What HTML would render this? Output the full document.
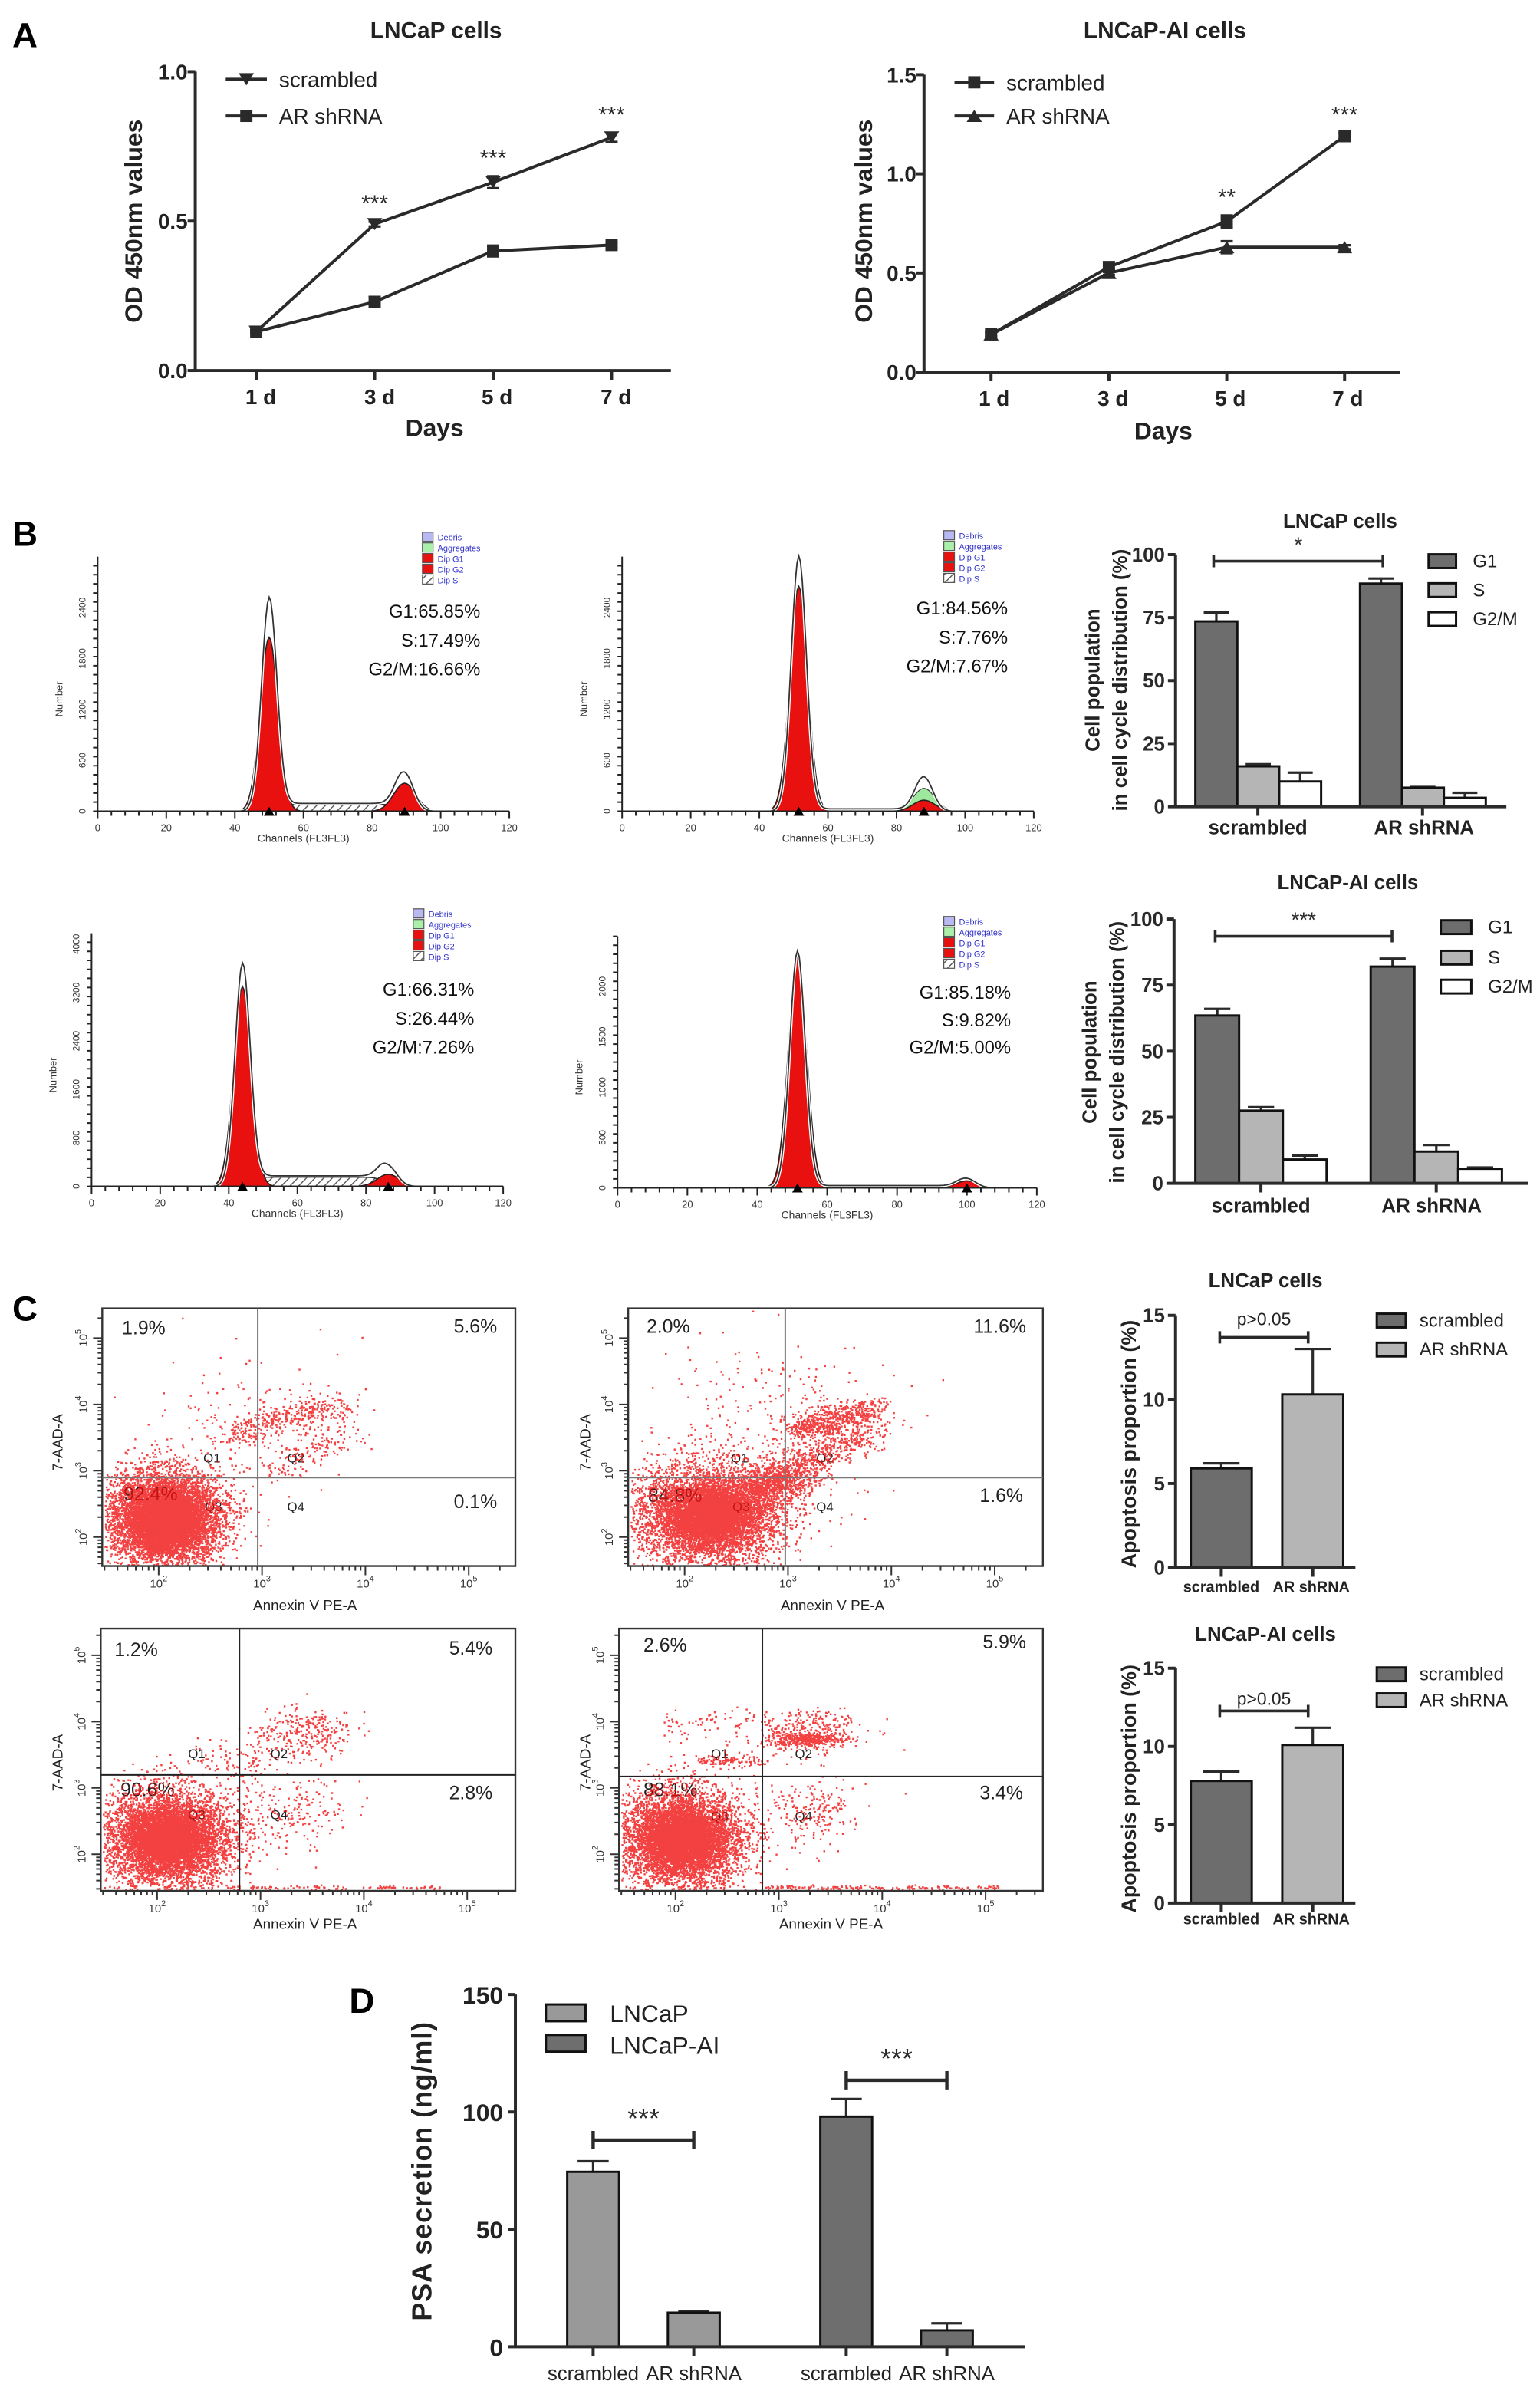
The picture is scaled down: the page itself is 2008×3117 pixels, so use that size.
<!DOCTYPE html>
<html><head><meta charset="utf-8"><style>
html,body{margin:0;padding:0;background:#fff;}
svg{display:block;font-family:"Liberation Sans",Arial,sans-serif;}
.b{font-weight:bold;}
</style></head><body>
<svg id="fig" width="2008" height="3117" viewBox="0 0 1010 1568" xmlns="http://www.w3.org/2000/svg">
<defs>
<pattern id="hatch" patternUnits="userSpaceOnUse" width="4" height="4" patternTransform="rotate(45)"><rect width="4" height="4" fill="#fff"/><line x1="0" y1="0" x2="0" y2="4" stroke="#555" stroke-width="1.4"/></pattern>
</defs>
<rect width="1010" height="1568" fill="#fff"/>

<text x="8" y="31" font-size="23" class="b">A</text>
<text x="8" y="358" font-size="23" class="b">B</text>
<text x="8" y="866" font-size="23" class="b">C</text>
<text x="229" y="1320" font-size="23" class="b">D</text>

<g fill="#222">
<text x="286" y="25" font-size="15" class="b" text-anchor="middle">LNCaP cells</text>
<text x="123" y="52" font-size="14" class="b" text-anchor="end">1.0</text>
<text x="123" y="150" font-size="14" class="b" text-anchor="end">0.5</text>
<text x="123" y="248" font-size="14" class="b" text-anchor="end">0.0</text>
<text x="171" y="265" font-size="14" class="b" text-anchor="middle">1 d</text>
<text x="249" y="265" font-size="14" class="b" text-anchor="middle">3 d</text>
<text x="326" y="265" font-size="14" class="b" text-anchor="middle">5 d</text>
<text x="404" y="265" font-size="14" class="b" text-anchor="middle">7 d</text>
<text x="285" y="286" font-size="16" class="b" text-anchor="middle">Days</text>
<text x="93" y="145" font-size="16" class="b" text-anchor="middle" transform="rotate(-90 93 145)">OD 450nm values</text>
<text x="183" y="57" font-size="14">scrambled</text>
<text x="183" y="81" font-size="14">AR shRNA</text>
</g>

<g fill="#222">
<text x="764" y="25" font-size="15" class="b" text-anchor="middle">LNCaP-AI cells</text>
<text x="601" y="54" font-size="14" class="b" text-anchor="end">1.5</text>
<text x="601" y="119" font-size="14" class="b" text-anchor="end">1.0</text>
<text x="601" y="184" font-size="14" class="b" text-anchor="end">0.5</text>
<text x="601" y="249" font-size="14" class="b" text-anchor="end">0.0</text>
<text x="652" y="266" font-size="14" class="b" text-anchor="middle">1 d</text>
<text x="730" y="266" font-size="14" class="b" text-anchor="middle">3 d</text>
<text x="807" y="266" font-size="14" class="b" text-anchor="middle">5 d</text>
<text x="884" y="266" font-size="14" class="b" text-anchor="middle">7 d</text>
<text x="763" y="288" font-size="16" class="b" text-anchor="middle">Days</text>
<text x="572" y="145" font-size="16" class="b" text-anchor="middle" transform="rotate(-90 572 145)">OD 450nm values</text>
<text x="660" y="59" font-size="14">scrambled</text>
<text x="660" y="81" font-size="14">AR shRNA</text>
</g>

<g fill="#111" font-size="12">
<text x="315" y="405" text-anchor="end">G1:65.85%</text>
<text x="315" y="424" text-anchor="end">S:17.49%</text>
<text x="315" y="443" text-anchor="end">G2/M:16.66%</text>
<text x="661" y="403" text-anchor="end">G1:84.56%</text>
<text x="661" y="422" text-anchor="end">S:7.76%</text>
<text x="661" y="441" text-anchor="end">G2/M:7.67%</text>
<text x="311" y="653" text-anchor="end">G1:66.31%</text>
<text x="311" y="672" text-anchor="end">S:26.44%</text>
<text x="311" y="691" text-anchor="end">G2/M:7.26%</text>
<text x="663" y="655" text-anchor="end">G1:85.18%</text>
<text x="663" y="673" text-anchor="end">S:9.82%</text>
<text x="663" y="691" text-anchor="end">G2/M:5.00%</text>
</g>

<g fill="#222">
<text x="879" y="346" font-size="13" class="b" text-anchor="middle">LNCaP cells</text>
<text x="884" y="583" font-size="13" class="b" text-anchor="middle">LNCaP-AI cells</text>
<text x="825" y="547" font-size="13" class="b" text-anchor="middle">scrambled</text>
<text x="934" y="547" font-size="13" class="b" text-anchor="middle">AR shRNA</text>
<text x="827" y="795" font-size="13" class="b" text-anchor="middle">scrambled</text>
<text x="939" y="795" font-size="13" class="b" text-anchor="middle">AR shRNA</text>
<text x="721" y="446" font-size="13" class="b" text-anchor="middle" transform="rotate(-90 721 446)">Cell population</text>
<text x="739" y="446" font-size="13" class="b" text-anchor="middle" transform="rotate(-90 739 446)">in cell cycle distribution (%)</text>
<text x="719" y="690" font-size="13" class="b" text-anchor="middle" transform="rotate(-90 719 690)">Cell population</text>
<text x="737" y="690" font-size="13" class="b" text-anchor="middle" transform="rotate(-90 737 690)">in cell cycle distribution (%)</text>
<text x="966" y="372" font-size="12">G1</text>
<text x="966" y="391" font-size="12">S</text>
<text x="966" y="410" font-size="12">G2/M</text>
<text x="976" y="612" font-size="12">G1</text>
<text x="976" y="632" font-size="12">S</text>
<text x="976" y="651" font-size="12">G2/M</text>
</g>

<g fill="#222" font-size="12.5">
<text x="80" y="875">1.9%</text>
<text x="326" y="874" text-anchor="end">5.6%</text>
<text x="81" y="984">92.4%</text>
<text x="326" y="989" text-anchor="end">0.1%</text>
<text x="424" y="874">2.0%</text>
<text x="673" y="874" text-anchor="end">11.6%</text>
<text x="425" y="985">84.8%</text>
<text x="671" y="985" text-anchor="end">1.6%</text>
<text x="75" y="1086">1.2%</text>
<text x="323" y="1085" text-anchor="end">5.4%</text>
<text x="79" y="1178">90.6%</text>
<text x="323" y="1180" text-anchor="end">2.8%</text>
<text x="422" y="1083">2.6%</text>
<text x="673" y="1081" text-anchor="end">5.9%</text>
<text x="422" y="1178">88.1%</text>
<text x="671" y="1180" text-anchor="end">3.4%</text>
<g font-size="8.5">
<text x="139" y="959" text-anchor="middle">Q1</text>
<text x="194" y="959" text-anchor="middle">Q2</text>
<text x="140" y="991" text-anchor="middle">Q3</text>
<text x="194" y="991" text-anchor="middle">Q4</text>
<text x="485" y="959" text-anchor="middle">Q1</text>
<text x="541" y="959" text-anchor="middle">Q2</text>
<text x="486" y="991" text-anchor="middle">Q3</text>
<text x="541" y="991" text-anchor="middle">Q4</text>
<text x="129" y="1153" text-anchor="middle">Q1</text>
<text x="183" y="1153" text-anchor="middle">Q2</text>
<text x="129" y="1193" text-anchor="middle">Q3</text>
<text x="183" y="1193" text-anchor="middle">Q4</text>
<text x="472" y="1153" text-anchor="middle">Q1</text>
<text x="527" y="1153" text-anchor="middle">Q2</text>
<text x="472" y="1194" text-anchor="middle">Q3</text>
<text x="527" y="1194" text-anchor="middle">Q4</text>
</g>
<g font-size="9.5">
<text x="200" y="1056" text-anchor="middle">Annexin V PE-A</text>
<text x="546" y="1056" text-anchor="middle">Annexin V PE-A</text>
<text x="200" y="1265" text-anchor="middle">Annexin V PE-A</text>
<text x="545" y="1265" text-anchor="middle">Annexin V PE-A</text>
<text x="41" y="946" text-anchor="middle" transform="rotate(-90 41 946)">7-AAD-A</text>
<text x="387" y="946" text-anchor="middle" transform="rotate(-90 387 946)">7-AAD-A</text>
<text x="41" y="1156" text-anchor="middle" transform="rotate(-90 41 1156)">7-AAD-A</text>
<text x="387" y="1156" text-anchor="middle" transform="rotate(-90 387 1156)">7-AAD-A</text>
</g>
</g>

<g fill="#222">
<text x="830" y="844" font-size="13" class="b" text-anchor="middle">LNCaP cells</text>
<text x="830" y="1076" font-size="13" class="b" text-anchor="middle">LNCaP-AI cells</text>
<text x="829" y="869" font-size="11.5" text-anchor="middle">p&gt;0.05</text>
<text x="829" y="1118" font-size="11.5" text-anchor="middle">p&gt;0.05</text>
<text x="801" y="1044" font-size="10" class="b" text-anchor="middle">scrambled</text>
<text x="860" y="1044" font-size="10" class="b" text-anchor="middle">AR shRNA</text>
<text x="801" y="1262" font-size="10" class="b" text-anchor="middle">scrambled</text>
<text x="860" y="1262" font-size="10" class="b" text-anchor="middle">AR shRNA</text>
<text x="745" y="947" font-size="13.5" class="b" text-anchor="middle" transform="rotate(-90 745 947)">Apoptosis proportion (%)</text>
<text x="745" y="1173" font-size="13.5" class="b" text-anchor="middle" transform="rotate(-90 745 1173)">Apoptosis proportion (%)</text>
<text x="931" y="870" font-size="12">scrambled</text>
<text x="931" y="889" font-size="12">AR shRNA</text>
<text x="931" y="1102" font-size="12">scrambled</text>
<text x="931" y="1119" font-size="12">AR shRNA</text>
</g>

<g fill="#222">
<text x="330" y="1314" font-size="16" class="b" text-anchor="end">150</text>
<text x="330" y="1391" font-size="16" class="b" text-anchor="end">100</text>
<text x="330" y="1468" font-size="16" class="b" text-anchor="end">50</text>
<text x="330" y="1545" font-size="16" class="b" text-anchor="end">0</text>
<text x="283" y="1424" font-size="18" class="b" text-anchor="middle" transform="rotate(-90 283 1424)" textLength="196">PSA secretion (ng/ml)</text>
<text x="389" y="1561" font-size="13" text-anchor="middle">scrambled</text>
<text x="455" y="1561" font-size="13" text-anchor="middle">AR shRNA</text>
<text x="555" y="1561" font-size="13" text-anchor="middle">scrambled</text>
<text x="621" y="1561" font-size="13" text-anchor="middle">AR shRNA</text>
<text x="400" y="1326" font-size="16">LNCaP</text>
<text x="400" y="1347" font-size="16">LNCaP-AI</text>
</g>

<g id="marks"></g>
</svg>

<script>
const NS = 'http://www.w3.org/2000/svg';
const root = document.getElementById('marks');
function mk(tag, attrs, parent) {
  const e = document.createElementNS(NS, tag);
  for (const k in attrs) e.setAttribute(k, attrs[k]);
  (parent || root).appendChild(e);
  return e;
}

// ===== Panel A data =====
const daysA = ['1 d', '3 d', '5 d', '7 d'];
const a1Scr = [0.13, 0.49, 0.63, 0.78];
const a1ScrErr = [0.005, 0.008, 0.02, 0.015];
const a1Ar = [0.13, 0.23, 0.40, 0.42];
const a1ArErr = [0.005, 0.015, 0.018, 0.008];
const a1Stars = ['', '***', '***', '***'];
const a2Scr = [0.19, 0.53, 0.76, 1.19];
const a2ScrErr = [0.01, 0.015, 0.03, 0.015];
const a2Ar = [0.19, 0.50, 0.63, 0.63];
const a2ArErr = [0.01, 0.01, 0.03, 0.01];
const a2Stars = ['', '', '**', '***'];

// ===== Panel B bar data =====
const cycleCats = ['scrambled', 'AR shRNA'];
const b1G1 = [73.5, 88.5], b1G1Err = [3.5, 2];
const b1S = [16, 7.5], b1SErr = [0.8, 0.3];
const b1G2 = [10, 3.5], b1G2Err = [3.5, 2];
const b2G1 = [63.5, 82], b2G1Err = [2.5, 3];
const b2S = [27.5, 12], b2SErr = [1.3, 2.5];
const b2G2 = [9, 5.5], b2G2Err = [1.5, 0.5];
const cycleTicks = [0, 25, 50, 75, 100];

// ===== Histogram data =====
const histG1Mu = [50, 51.5, 44, 51.5];
const histG1Amp = [2050, 2650, 3300, 2300];
const histG1Peak = [2500, 3000, 3650, 2350];
const histG2Mu = [89.5, 88, 86.5, 100];
const histG2Amp = [330, 130, 200, 70];
const histG2Peak = [440, 400, 320, 90];
const histSLevel = [80, 25, 150, 20];
const histYTicks = [[0, 600, 1200, 1800, 2400], [0, 600, 1200, 1800, 2400], [0, 800, 1600, 2400, 3200, 4000], [0, 500, 1000, 1500, 2000]];
const histXTicks = [0, 20, 40, 60, 80, 100, 120];

// ===== Apoptosis data =====
const apoCats = ['scrambled', 'AR shRNA'];
const c1Vals = [5.9, 10.3], c1Err = [0.3, 2.7];
const c2Vals = [7.8, 10.1], c2Err = [0.6, 1.1];
const apoTicks = [0, 5, 10, 15];

// ===== Panel D data =====
const dCats = ['scrambled', 'AR shRNA'];
const dLNCaP = [74.5, 14.5], dLNCaPErr = [4.5, 0.5];
const dAI = [98, 7], dAIErr = [7.5, 3];
const dTicks = [0, 50, 100, 150];

const INK = '#2a2a2a';

function marker(type, x, y, g) {
  let e;
  if (type === 'square') e = mk('rect', {x: x - 4, y: y - 4, width: 8, height: 8, fill: INK}, g);
  else if (type === 'down') e = mk('path', {d: `M${x-5},${y-4}L${x+5},${y-4}L${x},${y+4}Z`, fill: INK}, g);
  else e = mk('path', {d: `M${x-5},${y+4}L${x+5},${y+4}L${x},${y-4}Z`, fill: INK}, g);
  
  
}
function lineSeries(xf, yf, vals, errs, type, name) {
  const g = mk('g', {});
  
  
  const pts = vals.map((v, i) => `${xf(i)},${yf(v)}`).join(' ');
  const pl = mk('polyline', {points: pts, fill: 'none', stroke: INK, 'stroke-width': 2}, g);
  
  
  vals.forEach((v, i) => {
    const x = xf(i), y1 = yf(v + errs[i]), y2 = yf(v - errs[i]);
    const eb = mk('path', {d: `M${x},${y1}V${y2}M${x-4},${y1}H${x+4}M${x-4},${y2}H${x+4}`, stroke: INK, 'stroke-width': 1.6, fill: 'none'}, g);
    
    
    marker(type, x, yf(v), g);
  });
}
function lineAxes(ax, y0, yTop, xEnd, tickYs, tickXs) {
  const g = mk('g', {stroke: INK, 'stroke-width': 2, fill: 'none'});
  
  
  mk('path', {d: `M${ax},${yTop}V${y0}H${xEnd}`}, g);
  tickYs.forEach(y => mk('path', {d: `M${ax-5},${y}H${ax}`}, g));
  tickXs.forEach(x => mk('path', {d: `M${x},${y0}V${y0+6}`}, g));
}
function stars(xf, yf, vals, errs, labels, fs) {
  labels.forEach((s, i) => {
    if (!s) return;
    const t = mk('text', {x: xf(i), y: yf(vals[i] + errs[i]) - 7, 'font-size': fs, 'text-anchor': 'middle', fill: INK});
    t.textContent = s;
    
    
  });
}
const a1x = i => 168 + i * 77.7;
const a1y = v => 243 - v * 196;
lineAxes(128, 243, 47, 440, [0, 0.5, 1].map(a1y), daysA.map((d, i) => a1x(i)));
lineSeries(a1x, a1y, a1Ar, a1ArErr, 'square', 'series-ar-shrna');
lineSeries(a1x, a1y, a1Scr, a1ScrErr, 'down', 'series-scrambled');
stars(a1x, a1y, a1Scr, a1ScrErr, a1Stars, 15);
{
  const l1 = mk('path', {d: 'M148,52H175M148,76H175', stroke: INK, 'stroke-width': 2});
  
  
  marker('down', 161.5, 52, root);
  marker('square', 161.5, 76, root);
}
const a2x = i => 650 + i * 77.3;
const a2y = v => 244 - v * 130;
lineAxes(606, 244, 49, 918, [0, 0.5, 1, 1.5].map(a2y), daysA.map((d, i) => a2x(i)));
lineSeries(a2x, a2y, a2Ar, a2ArErr, 'up', 'series-ar-shrna');
lineSeries(a2x, a2y, a2Scr, a2ScrErr, 'square', 'series-scrambled');
stars(a2x, a2y, a2Scr, a2ScrErr, a2Stars, 15);
{
  const l2 = mk('path', {d: 'M626,54H652M626,76H652', stroke: INK, 'stroke-width': 2});
  
  
  marker('square', 639, 54, root);
  marker('up', 639, 76, root);
}

// ---------- Histograms ----------
const histLayout = [
  {x0: 64, w: 270, base: 532, top: 365, ymax: 3000, lx: 277, ly: 349},
  {x0: 408, w: 270, base: 532, top: 365, ymax: 3000, lx: 619, ly: 348},
  {x0: 60, w: 270, base: 778, top: 612, ymax: 4180, lx: 271, ly: 596},
  {x0: 405, w: 275, base: 779, top: 614, ymax: 2500, lx: 619, ly: 601}
];
function gauss(c, mu, s, a) { return a * Math.exp(-0.5 * ((c - mu) / s) ** 2); }
function sig(c, a, b) { return 1 / (1 + Math.exp(-(c - a) * 1.2)) * (1 / (1 + Math.exp((c - b) * 1.2))); }
histLayout.forEach((L, k) => {
  const g = mk('g', {});
  
  
  const X = c => L.x0 + c / 120 * L.w;
  const Y = n => L.base - n / L.ymax * (L.base - L.top);
  const m1 = histG1Mu[k], m2 = histG2Mu[k];
  const s1 = 2.6, s2 = 3.2;
  function areaPath(f) {
    let d = `M${X(m1 - 14)},${L.base}`;
    for (let c = 0; c <= 120; c += 0.5) d += `L${X(c).toFixed(2)},${Y(f(c)).toFixed(2)}`;
    return d + `L${X(120)},${L.base}Z`;
  }
  const sb = mk('path', {d: areaPath(c => histSLevel[k] * sig(c, m1 + 2, m2 - 2)), fill: 'url(#hatch)', stroke: '#333', 'stroke-width': 0.8}, g);
  
  
  if (k === 1) {
    const ag = mk('path', {d: areaPath(c => gauss(c, m2, s2, 270)), fill: '#9ee89e', stroke: '#333', 'stroke-width': 0.6}, g);
    
    
  }
  const g2 = mk('path', {d: areaPath(c => gauss(c, m2, s2, histG2Amp[k])), fill: '#e8110f', stroke: '#222', 'stroke-width': 0.8}, g);
  
  
  const g1 = mk('path', {d: areaPath(c => gauss(c, m1, s1, histG1Amp[k])), fill: '#e8110f', stroke: '#222', 'stroke-width': 0.8}, g);
  
  
  const tot = c => gauss(c, m1, s1 * 0.85, histG1Peak[k]) + gauss(c, m2, s2 * 0.8, histG2Peak[k]) + histSLevel[k] * 1.15 * sig(c, m1 + 1, m2 - 1);
  let d = '';
  for (let c = 30; c <= 110; c += 0.5) d += (d ? 'L' : 'M') + X(c).toFixed(2) + ',' + Y(tot(c)).toFixed(2);
  const ol = mk('path', {d: d, fill: 'none', stroke: '#fff', 'stroke-width': 2.2}, g);
  
  
  const ol2 = mk('path', {d: d, fill: 'none', stroke: '#333', 'stroke-width': 0.9}, g);
  
  
  let ad = `M${L.x0},${L.top}V${L.base}H${L.x0 + L.w}`;
  for (let c = 0; c <= 120; c += 4) ad += `M${X(c)},${L.base}v${c % 20 === 0 ? 5 : 3}`;
  for (let y = L.base; y >= L.top; y -= (L.base - L.top) / 28) ad += `M${L.x0},${y.toFixed(1)}h-3`;
  const ax = mk('path', {d: ad, stroke: '#222', 'stroke-width': 1, fill: 'none'}, g);
  
  
  histXTicks.forEach(c => {
    const t = mk('text', {x: X(c), y: L.base + 13, 'font-size': 6.5, 'text-anchor': 'middle', fill: '#333'}, g);
    t.textContent = String(c);
    
    
  });
  histYTicks[k].forEach(n => {
    const y = Y(n);
    const t = mk('text', {x: L.x0 - 8, y: y, 'font-size': 6, 'text-anchor': 'middle', fill: '#333', transform: `rotate(-90 ${L.x0 - 8} ${y})`}, g);
    t.textContent = String(n);
    
    
  });
  const xl = mk('text', {x: X(60), y: L.base + 20, 'font-size': 7, 'text-anchor': 'middle', fill: '#333'}, g);
  xl.textContent = 'Channels (FL3FL3)';
  
  
  const ym = (L.base + L.top) / 2 + 10;
  const yl = mk('text', {x: L.x0 - 23, y: ym, 'font-size': 6.5, 'text-anchor': 'middle', fill: '#333', transform: `rotate(-90 ${L.x0 - 23} ${ym})`}, g);
  yl.textContent = 'Number';
  
  
  [m1, m2].forEach(m => {
    const tr = mk('path', {d: `M${X(m) - 3.5},${L.base + 3}L${X(m) + 3.5},${L.base + 3}L${X(m)},${L.base - 3}Z`, fill: '#000'}, g);
    
    
  });
  const legNames = ['Debris', 'Aggregates', 'Dip G1', 'Dip G2', 'Dip S'];
  const legFill = ['#b9b9f2', '#aaf0aa', '#e8110f', '#e8110f', 'url(#hatch)'];
  legNames.forEach((nm, i) => {
    const r = mk('rect', {x: L.lx, y: L.ly + i * 7, width: 7, height: 6, fill: legFill[i], stroke: '#555', 'stroke-width': 0.6}, g);
    
    
    const t = mk('text', {x: L.lx + 10, y: L.ly + i * 7 + 5.5, 'font-size': 5.5, fill: '#3333cc'}, g);
    t.textContent = nm;
    
    
  });
});

function barChart(opts) {
  const g = mk('g', {});
  
  
  const Y = opts.y;
  opts.series.forEach((vals, s) => {
    vals.forEach((v, c) => {
      const x = opts.x(s, c);
      const w = opts.bw;
      const e = opts.errs[s][c];
      const eb = mk('path', {d: `M${x + w / 2},${Y(v)}V${Y(v + e)}M${x + w / 2 - w * 0.3},${Y(v + e)}H${x + w / 2 + w * 0.3}`, stroke: INK, 'stroke-width': 1.6, fill: 'none'}, g);
      
      
      const r = mk('rect', {x: x, y: Y(v), width: w, height: Y(0) - Y(v), fill: opts.colors[s], stroke: '#111', 'stroke-width': 1.5}, g);
      
      
    });
  });
  let ad = `M${opts.ax},${Y(opts.ticks[opts.ticks.length - 1])}V${Y(0)}H${opts.xEnd}`;
  opts.ticks.forEach(t => ad += `M${opts.ax - 5},${Y(t)}H${opts.ax}`);
  opts.catTicks.forEach(x => ad += `M${x},${Y(0)}v6`);
  const ax = mk('path', {d: ad, stroke: INK, 'stroke-width': 2, fill: 'none'}, g);
  
  
  if (opts.tickLabels) opts.ticks.forEach(t => {
    const tx = mk('text', {x: opts.ax - 7, y: Y(t) + 4.5, 'font-size': opts.tfs, 'font-weight': 'bold', 'text-anchor': 'end', fill: INK}, g);
    tx.textContent = String(t);
    
    
  });
  if (opts.bracket) {
    const b = opts.bracket;
    const bp = mk('path', {d: `M${b.x1},${b.y}H${b.x2}M${b.x1},${b.y - 4}v8M${b.x2},${b.y - 4}v8`, stroke: INK, 'stroke-width': 1.8, fill: 'none'}, g);
    
    
    if (b.label) {
      const st = mk('text', {x: (b.x1 + b.x2) / 2, y: b.y - 6, 'font-size': b.fs, 'text-anchor': 'middle', fill: INK}, g);
      st.textContent = b.label;
      
      
    }
  }
  if (opts.legend) {
    const L = opts.legend;
    opts.colors.forEach((col, s) => {
      const r = mk('rect', {x: L.x, y: L.ys[s] - L.h / 2, width: L.w, height: L.h, fill: col, stroke: '#111', 'stroke-width': 1.5}, g);
      
      
    });
  }
}

const yB1 = v => 529 - v * 1.653;
barChart({name: 'cell-cycle-chart-lncap', y: yB1, series: [b1G1, b1S, b1G2], errs: [b1G1Err, b1SErr, b1G2Err],
  seriesNames: ['g1', 's', 'g2m'], colors: ['#6d6d6d', '#b5b5b5', '#ffffff'],
  x: (s, c) => [784, 892][c] + s * 27.5, bw: 27.5, ax: 771, xEnd: 988, ticks: cycleTicks, tickLabels: true, tfs: 13,
  catTicks: [825, 933], bracket: {x1: 796, x2: 907, y: 368, label: '*', fs: 14},
  legend: {x: 937, w: 18, h: 9, ys: [368, 387, 406]}});
const yB2 = v => 776 - v * 1.733;
barChart({name: 'cell-cycle-chart-lncap-ai', y: yB2, series: [b2G1, b2S, b2G2], errs: [b2G1Err, b2SErr, b2G2Err],
  seriesNames: ['g1', 's', 'g2m'], colors: ['#6d6d6d', '#b5b5b5', '#ffffff'],
  x: (s, c) => [784, 899][c] + s * 28.7, bw: 28.7, ax: 770, xEnd: 1002, ticks: cycleTicks, tickLabels: true, tfs: 13,
  catTicks: [827, 942], bracket: {x1: 797, x2: 913, y: 614, label: '***', fs: 14},
  legend: {x: 945, w: 20, h: 9, ys: [608, 628, 647]}});
const yC1 = v => 1028 - v * (165.4 / 15);
barChart({name: 'apoptosis-chart-lncap', y: yC1, series: [[c1Vals[0]], [c1Vals[1]]], errs: [[c1Err[0]], [c1Err[1]]],
  seriesNames: ['scrambled', 'ar-shrna'], colors: ['#6d6d6d', '#b5b5b5'],
  x: (s, c) => [781, 841][s], bw: 40, ax: 771, xEnd: 889, ticks: apoTicks, tickLabels: true, tfs: 13,
  catTicks: [801, 861], bracket: {x1: 800, x2: 858, y: 877, label: '', fs: 12},
  legend: {x: 903, w: 19, h: 9, ys: [866, 885]}});
const yC2 = v => 1248 - v * (154 / 15);
barChart({name: 'apoptosis-chart-lncap-ai', y: yC2, series: [[c2Vals[0]], [c2Vals[1]]], errs: [[c2Err[0]], [c2Err[1]]],
  seriesNames: ['scrambled', 'ar-shrna'], colors: ['#6d6d6d', '#b5b5b5'],
  x: (s, c) => [781, 841][s], bw: 40, ax: 771, xEnd: 889, ticks: apoTicks, tickLabels: true, tfs: 13,
  catTicks: [801, 861], bracket: {x1: 800, x2: 858, y: 1122, label: '', fs: 12},
  legend: {x: 903, w: 19, h: 9, ys: [1098, 1115]}});
const yD = v => 1539 - v * (231 / 150);
barChart({name: 'psa-secretion-chart', y: yD, series: [dLNCaP, dAI], errs: [dLNCaPErr, dAIErr],
  seriesNames: ['lncap', 'lncap-ai'], colors: ['#999999', '#6e6e6e'],
  x: (s, c) => 372 + s * 166 + c * 66, bw: 34, ax: 338, xEnd: 672, ticks: dTicks, tickLabels: false, tfs: 16,
  catTicks: [389, 455, 555, 621], bracket: null,
  legend: {x: 358, w: 26, h: 11, ys: [1320, 1340]}});
[[389, 455, yD(88)], [555, 621, yD(113.5)]].forEach(b => {
  const bp = mk('path', {d: `M${b[0]},${b[2]}H${b[1]}M${b[0]},${b[2] - 6}v12M${b[1]},${b[2] - 6}v12`, stroke: INK, 'stroke-width': 2.2, fill: 'none'});
  
  
  const st = mk('text', {x: (b[0] + b[1]) / 2, y: b[2] - 8, 'font-size': 18, 'text-anchor': 'middle', fill: INK});
  st.textContent = '***';
  
  
});

// ---------- Flow cytometry plots ----------
const flowBoxes = [
  {l: 67, r: 338, t: 858, b: 1027, vx: 169, hy: 969, x2: 104, y2: 1008},
  {l: 412, r: 684, t: 858, b: 1027, vx: 515, hy: 969, x2: 449, y2: 1008},
  {l: 66, r: 338, t: 1068, b: 1240, vx: 157, hy: 1164, x2: 103, y2: 1216},
  {l: 406, r: 684, t: 1068, b: 1240, vx: 500, hy: 1165, x2: 443, y2: 1216}
];
const flowClusters = [
  [[0.15, 0.81, 0.07, 0.09, 9000], [0.15, 0.82, 0.035, 0.05, 4000], [0.30, 0.49, 0.04, 0.03, 400, 0.57, 0.37], [0.42, 0.62, 0.03, 0.03, 150, 0.59, 0.47], [0.35, 0.45, 0.12, 0.15, 120]],
  [[0.19, 0.80, 0.09, 0.1, 9000], [0.2, 0.8, 0.045, 0.05, 3500], [0.28, 0.74, 0.04, 0.04, 900, 0.40, 0.63], [0.41, 0.47, 0.03, 0.025, 600, 0.58, 0.39], [0.39, 0.62, 0.03, 0.03, 400, 0.59, 0.47], [0.35, 0.45, 0.15, 0.15, 300]],
  [[0.16, 0.80, 0.08, 0.095, 9000], [0.16, 0.8, 0.04, 0.05, 3500], [0.49, 0.40, 0.06, 0.05, 300], [0.30, 0.50, 0.05, 0.04, 80], [0.46, 0.69, 0.07, 0.08, 200], [0.3, 0.985, 0.0, 0.004, 100, 0.85, 0.985]],
  [[0.146, 0.80, 0.075, 0.095, 9000], [0.146, 0.8, 0.04, 0.05, 3500], [0.44, 0.42, 0.045, 0.012, 400], [0.44, 0.40, 0.07, 0.05, 200], [0.26, 0.50, 0.035, 0.012, 120], [0.1, 0.36, 0.0, 0.03, 150, 0.55, 0.36], [0.46, 0.69, 0.05, 0.07, 200], [0.3, 0.985, 0.0, 0.004, 150, 0.9, 0.985]]
];
let seed = 12345;
function rnd() { seed = (seed * 1103515245 + 12345) % 2147483648; return seed / 2147483648; }
function nrm() { let u = rnd() || 1e-9, v = rnd(); return Math.sqrt(-2 * Math.log(u)) * Math.cos(2 * Math.PI * v); }
const decadeLabels = ['2', '3', '4', '5'];
flowBoxes.forEach((B, k) => {
  const g = mk('g', {});
  
  
  const w = B.r - B.l, h = B.b - B.t;
  let d = '';
  flowClusters[k].forEach(cl => {
    for (let i = 0; i < cl[4]; i++) {
      let fx, fy;
      if (cl.length > 5) { const t = rnd(); fx = cl[0] + (cl[5] - cl[0]) * t + nrm() * cl[2]; fy = cl[1] + (cl[6] - cl[1]) * t + nrm() * cl[3]; }
      else { fx = cl[0] + nrm() * cl[2]; fy = cl[1] + nrm() * cl[3]; }
      if (fx < 0.005 || fx > 0.995 || fy < 0.005 || fy > 0.995) continue;
      d += `M${(B.l + fx * w).toFixed(1)},${(B.t + fy * h).toFixed(1)}h1.2v1.2h-1.2z`;
    }
  });
  const dots = mk('path', {d: d, fill: '#f01010', 'fill-opacity': 0.8}, g);
  
  
  const box = mk('rect', {x: B.l, y: B.t, width: w, height: h, fill: 'none', stroke: '#333', 'stroke-width': 1.2}, g);
  
  
  const q = mk('path', {d: `M${B.vx},${B.t}V${B.b}M${B.l},${B.hy}H${B.r}`, stroke: k < 2 ? '#777' : '#222', 'stroke-width': 1}, g);
  
  
  let td = '';
  for (let dec = 1; dec <= 5; dec++) for (let m = 1; m <= 9; m++) {
    const lg = dec + Math.log10(m);
    const x = B.x2 + (lg - 2) * 67.8;
    if (x > B.l && x < B.r) td += `M${x.toFixed(1)},${B.b}v${m === 1 ? 6 : 3}`;
    const y = B.y2 - (lg - 2) * 43.5;
    if (y > B.t && y < B.b) td += `M${B.l},${y.toFixed(1)}h${m === 1 ? -6 : -3}`;
  }
  const tk = mk('path', {d: td, stroke: '#333', 'stroke-width': 1}, g);
  
  
  decadeLabels.forEach((p, i) => {
    const x = B.x2 + i * 67.8;
    const t = mk('text', {x: x, y: B.b + 14, 'font-size': 7.5, 'text-anchor': 'middle', fill: '#333'}, g);
    t.textContent = '10';
    const sp = mk('tspan', {dy: -4, 'font-size': 5.5}, t);
    sp.textContent = p;
    
    
    const y = B.y2 - i * 43.5;
    const t2 = mk('text', {x: B.l - 10, y: y, 'font-size': 7.5, 'text-anchor': 'middle', fill: '#333', transform: `rotate(-90 ${B.l - 10} ${y})`}, g);
    t2.textContent = '10';
    const sp2 = mk('tspan', {dy: -4, 'font-size': 5.5}, t2);
    sp2.textContent = p;
    
    
  });
});
</script>
</body></html>
